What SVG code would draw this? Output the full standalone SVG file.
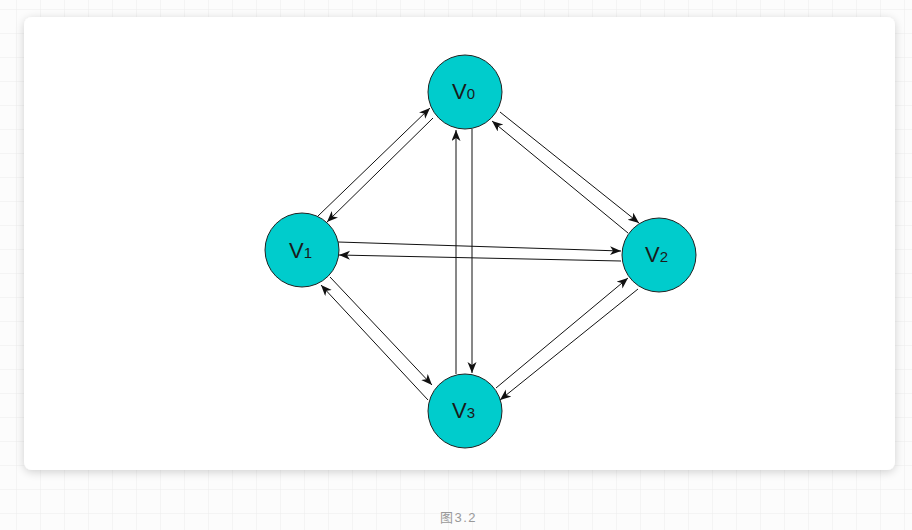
<svg xmlns="http://www.w3.org/2000/svg" width="912" height="530" viewBox="0 0 912 530">
<defs>
<pattern id="grid" x="16" y="9" width="24" height="24" patternUnits="userSpaceOnUse">
<path d="M0,0 H24 M0,0 V24" fill="none" stroke="#ececec" stroke-width="1"/>
</pattern>
<filter id="sh" x="-5%" y="-5%" width="110%" height="115%">
<feGaussianBlur in="SourceAlpha" stdDeviation="5"/>
<feOffset dy="2"/>
<feComponentTransfer><feFuncA type="linear" slope="0.18"/></feComponentTransfer>
<feMerge><feMergeNode/><feMergeNode in="SourceGraphic"/></feMerge>
</filter>
<marker id="arr" markerWidth="12" markerHeight="10" refX="11" refY="4.5" orient="auto" markerUnits="userSpaceOnUse">
<path d="M0,0 L11,4.5 L0,9 L3,4.5 Z" fill="#111"/>
</marker>
</defs>
<style>
.node{fill:#00cccc;stroke:#222;stroke-width:1}
.lbl{font-family:"Liberation Sans",Arial,sans-serif;fill:#1a1a1a}
.v{font-size:22px}
.d{font-size:15px}
.e{stroke:#111;stroke-width:1;fill:none;marker-end:url(#arr)}
.cap{font-family:"Liberation Sans","Noto Sans CJK SC",sans-serif;font-size:13px;fill:#999;letter-spacing:1.5px}
</style>
<rect width="912" height="530" fill="#fcfcfc"/>
<rect width="912" height="530" fill="url(#grid)"/>
<rect x="24" y="17" width="871" height="453" rx="8" fill="#ffffff" filter="url(#sh)"/>
<g id="connectors">
<line class="e" x1="318" y1="216" x2="430" y2="108"/>
<line class="e" x1="433" y1="118" x2="327" y2="222"/>
<line class="e" x1="500" y1="112" x2="639" y2="223"/>
<line class="e" x1="628" y1="233" x2="492" y2="121"/>
<line class="e" x1="338" y1="242" x2="621" y2="251"/>
<line class="e" x1="621" y1="261" x2="339" y2="255"/>
<line class="e" x1="456" y1="374" x2="456" y2="130"/>
<line class="e" x1="472" y1="129" x2="472" y2="373"/>
<line class="e" x1="330" y1="277" x2="432" y2="385"/>
<line class="e" x1="428" y1="400" x2="321" y2="285"/>
<line class="e" x1="496" y1="388" x2="628" y2="278"/>
<line class="e" x1="638" y1="289" x2="500" y2="400"/>
</g>
<g id="V0">
<circle class="node" cx="465" cy="92" r="37"/>
<text class="lbl" x="452" y="99"><tspan class="v">V</tspan><tspan class="d" font-size="14">0</tspan></text>
</g>
<g id="V1">
<circle class="node" cx="302" cy="250" r="37"/>
<text class="lbl" x="289" y="258"><tspan class="v">V</tspan><tspan class="d">1</tspan></text>
</g>
<g id="V2">
<circle class="node" cx="659" cy="255" r="37"/>
<text class="lbl" x="645" y="262"><tspan class="v">V</tspan><tspan class="d" font-size="17">2</tspan></text>
</g>
<g id="V3">
<circle class="node" cx="465" cy="411" r="37"/>
<text class="lbl" x="452" y="418"><tspan class="v">V</tspan><tspan class="d">3</tspan></text>
</g>
<text class="cap" x="440" y="522">图3.2</text>
</svg>
